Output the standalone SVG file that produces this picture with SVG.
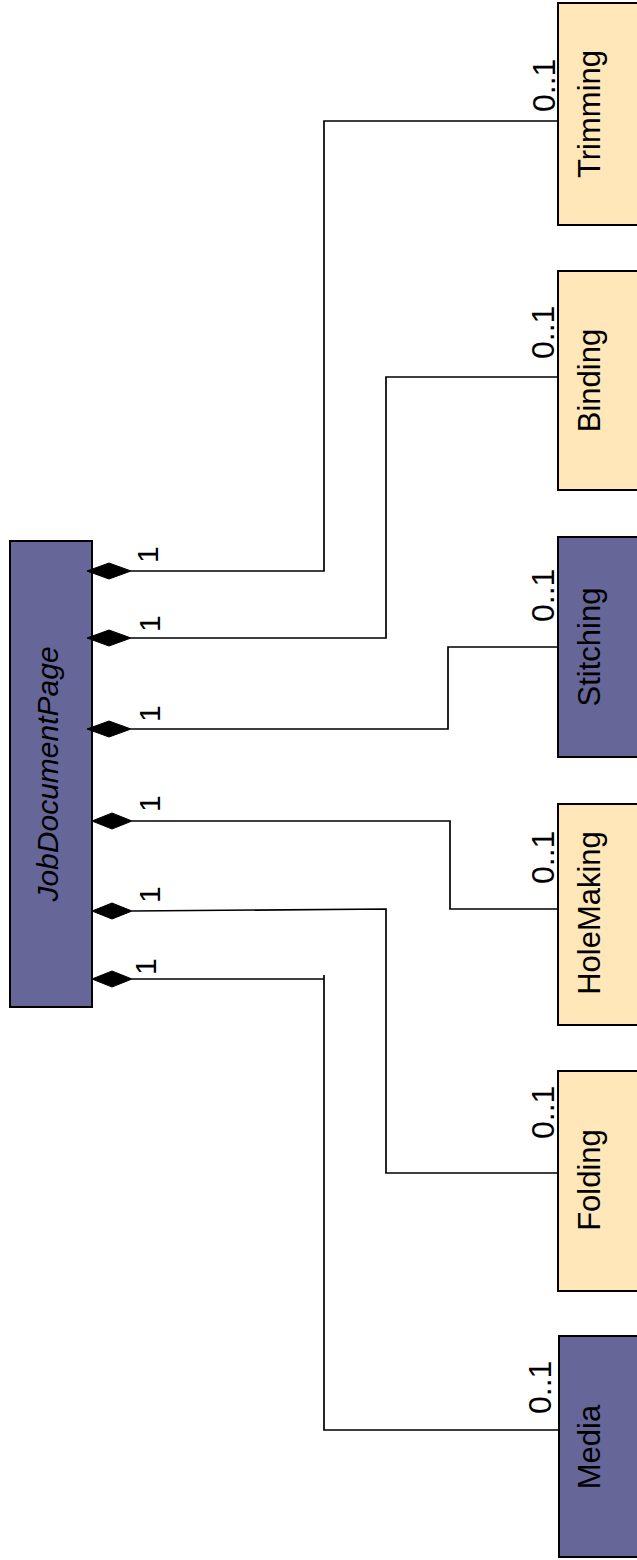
<svg xmlns="http://www.w3.org/2000/svg" width="637" height="1560" viewBox="0 0 637 1560">
<style>
.box{stroke:#000;stroke-width:2}
.purple{fill:#666699}
.beige{fill:#FFE7BA}
.lbl{font-family:"Liberation Sans",Arial,sans-serif;font-size:31px;fill:#000;text-anchor:middle}
.ital{font-style:italic;font-size:30px}
.mult{font-family:"Liberation Sans",Arial,sans-serif;fill:#000}
.m1{font-size:30px}
.m01{font-size:32px}
.conn{fill:none;stroke:#000;stroke-width:1.7}
.dia{fill:#000;stroke:#000;stroke-width:1}
</style>
<rect width="637" height="1560" fill="#fff"/>
<g id="JobDocumentPage">
<rect class="box purple" x="10" y="541" width="82" height="466"/>
<text class="lbl ital" transform="translate(58,774) rotate(-90)">JobDocumentPage</text>
</g>
<g id="Trimming">
<rect class="box beige" x="558" y="3" width="90" height="222"/>
<text class="lbl" transform="translate(600,114) rotate(-90)">Trimming</text>
</g>
<g id="Binding">
<rect class="box beige" x="558" y="271" width="90" height="219"/>
<text class="lbl" transform="translate(600,380.5) rotate(-90)">Binding</text>
</g>
<g id="Stitching">
<rect class="box purple" x="558" y="537" width="90" height="220"/>
<text class="lbl" transform="translate(600,647) rotate(-90)">Stitching</text>
</g>
<g id="HoleMaking">
<rect class="box beige" x="558" y="804" width="90" height="221"/>
<text class="lbl" transform="translate(600,913) rotate(-90)">HoleMaking</text>
</g>
<g id="Folding">
<rect class="box beige" x="558" y="1071" width="90" height="220"/>
<text class="lbl" transform="translate(600,1180) rotate(-90)">Folding</text>
</g>
<g id="Media">
<rect class="box purple" x="559" y="1336" width="90" height="221"/>
<text class="lbl" transform="translate(600,1447) rotate(-90)">Media</text>
</g>
<g id="connectors">
<polyline class="conn" points="131,571 324,571 324,121 558,121"/>
<polygon class="dia" points="87,571 109,563 131,571 109,579"/>
<text class="mult m1" transform="translate(158,563) rotate(-90)">1</text>
<text class="mult m01" transform="translate(555,112) rotate(-90)">0..1</text>

<polyline class="conn" points="131,638 386,638 386,377 558,377"/>
<polygon class="dia" points="87,638 109,630 131,638 109,646"/>
<text class="mult m1" transform="translate(160,632) rotate(-90)">1</text>
<text class="mult m01" transform="translate(554,359) rotate(-90)">0..1</text>

<polyline class="conn" points="131,729 448,729 448,647 558,647"/>
<polygon class="dia" points="87,729 109,721 131,729 109,737"/>
<text class="mult m1" transform="translate(160,722) rotate(-90)">1</text>
<text class="mult m01" transform="translate(554,622) rotate(-90)">0..1</text>

<polyline class="conn" points="132,821 450,821 450,909 558,909"/>
<polygon class="dia" points="92,821 112,813 132,821 112,829"/>
<text class="mult m1" transform="translate(160,812) rotate(-90)">1</text>
<text class="mult m01" transform="translate(554,884) rotate(-90)">0..1</text>

<polyline class="conn" points="132,911 386,909 386,1173 558,1173"/>
<polygon class="dia" points="92,911 112,903 132,911 112,919"/>
<text class="mult m1" transform="translate(160,903) rotate(-90)">1</text>
<text class="mult m01" transform="translate(554,1139) rotate(-90)">0..1</text>

<polyline class="conn" points="132,979 324,979"/>
<polyline class="conn" points="324,975 324,1430 559,1430"/>
<polygon class="dia" points="92,979 112,971 132,979 112,987"/>
<text class="mult m1" transform="translate(156,975) rotate(-90)">1</text>
<text class="mult m01" transform="translate(551,1414) rotate(-90)">0..1</text>
</g>
</svg>
